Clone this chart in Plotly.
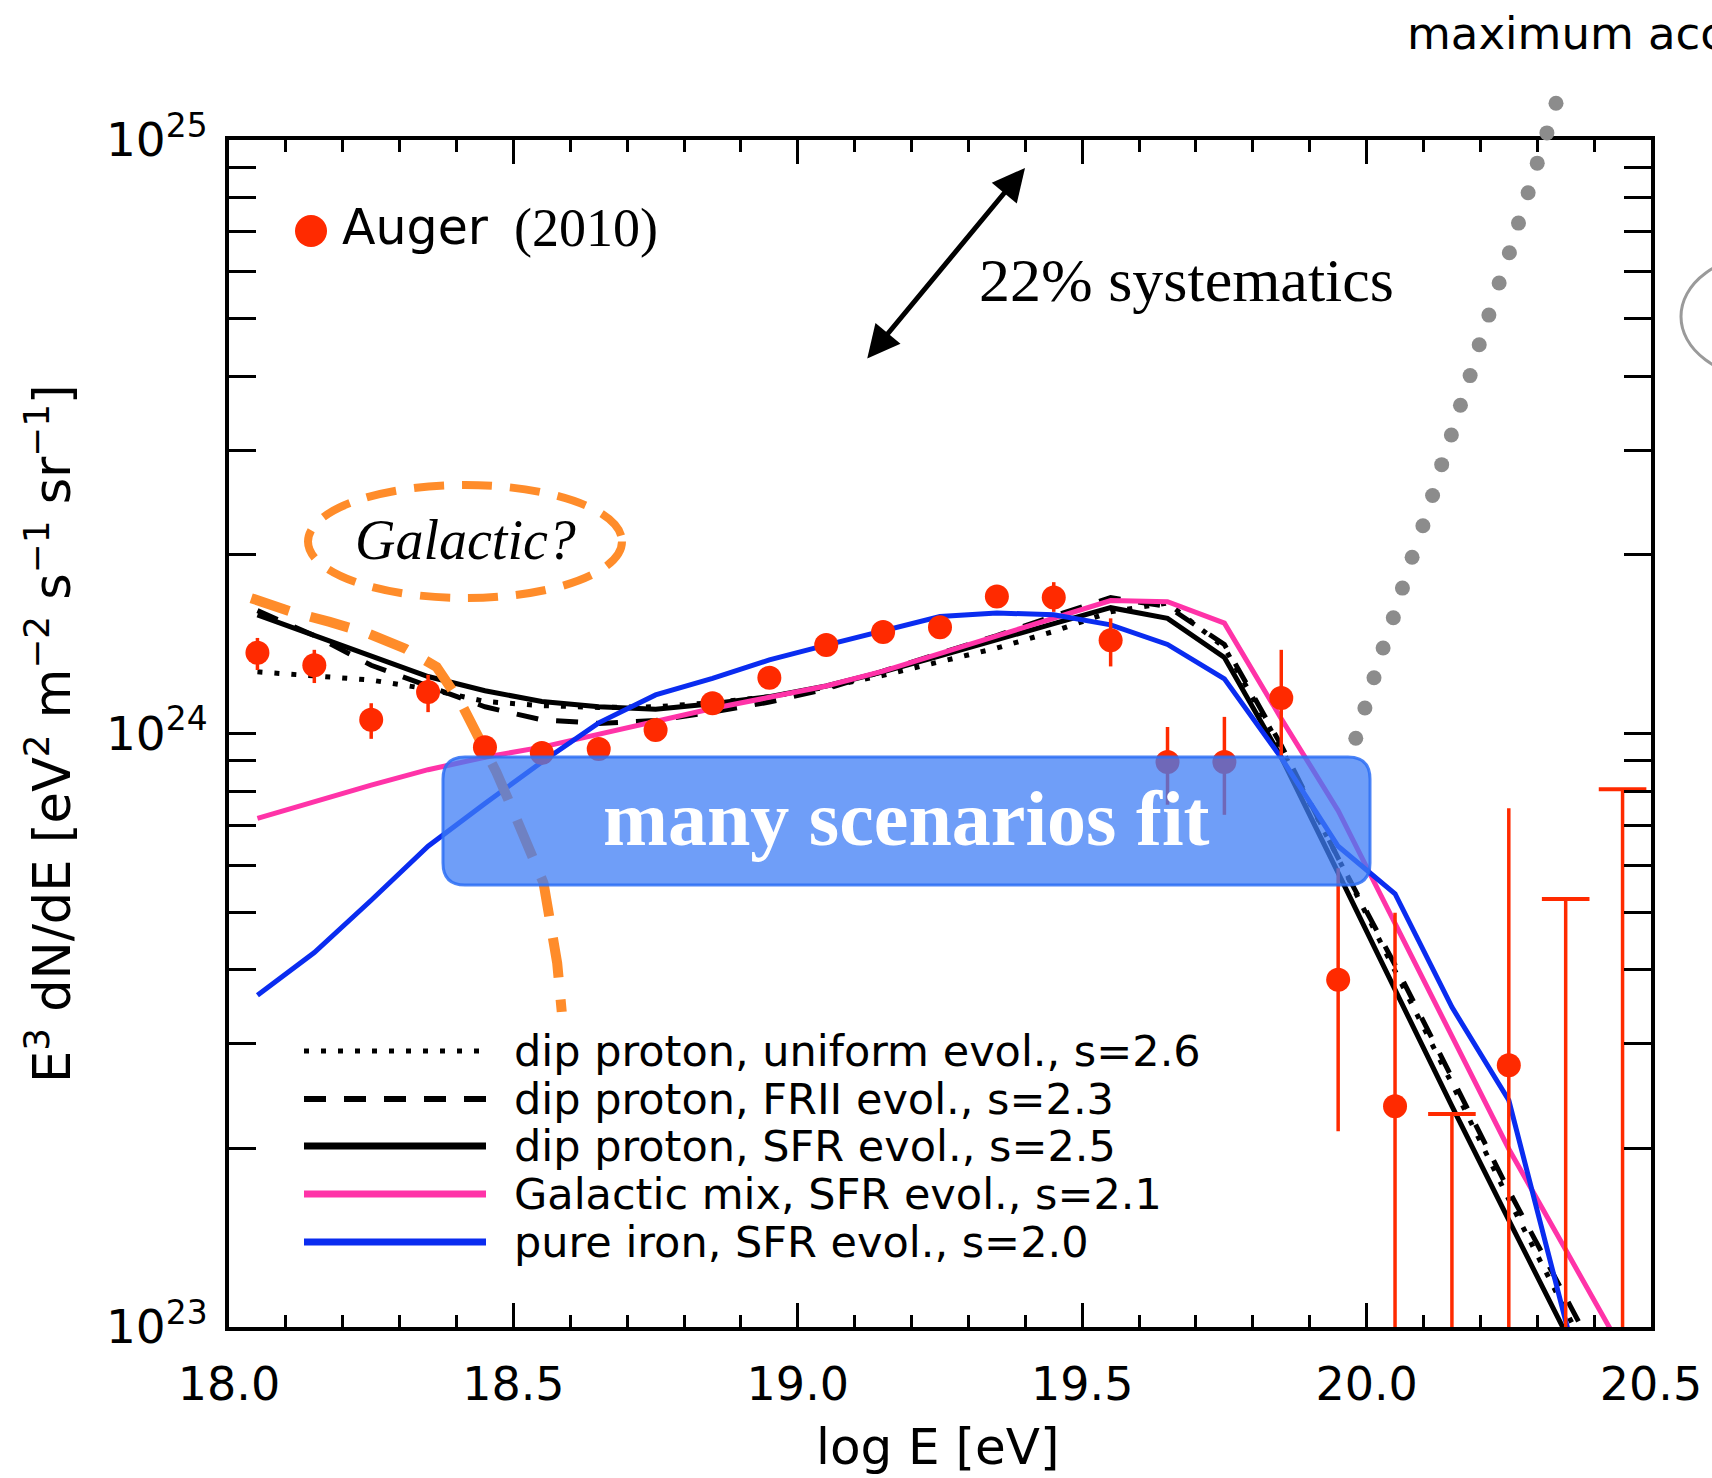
import plotly.graph_objects as go

# ---------------- data (log10 E [eV], log10 of E^3 dN/dE) ----------------
auger_logE = [18.05, 18.15, 18.25, 18.35, 18.45, 18.55, 18.65, 18.75, 18.85, 18.95,
              19.05, 19.15, 19.25, 19.35, 19.45, 19.55, 19.65, 19.75, 19.85, 19.95,
              20.05, 20.25]
auger_logJ = [24.136, 24.115, 24.023, 24.070, 23.977, 23.967, 23.974, 24.006, 24.051, 24.094,
              24.149, 24.171, 24.179, 24.231, 24.229, 24.157, 23.952, 23.952, 24.060, 23.585,
              23.372, 23.441]
auger_err_hi = [24.161, 24.141, 24.051, 24.099, 23.990, 23.978, 23.985, 24.016, 24.060, 24.103,
                24.158, 24.180, 24.190, 24.249, 24.255, 24.194, 24.011, 24.028, 24.141, 23.773,
                23.698, 23.874]
auger_err_lo = [24.107, 24.085, 23.991, 24.036, 23.964, 23.956, 23.963, 23.996, 24.042, 24.085,
                24.140, 24.162, 24.168, 24.213, 24.205, 24.113, 23.880, 23.863, 23.963, 23.330,
                22.0, 22.0]
ul_logE = [20.15, 20.35, 20.45]
ul_logJ = [23.359, 23.721, 23.906]

model_logE = [18.05, 18.15, 18.25, 18.35, 18.45, 18.55, 18.65, 18.75, 18.85, 18.95,
              19.05, 19.15, 19.25, 19.35, 19.45, 19.55, 19.65, 19.75, 19.85, 19.95,
              20.05, 20.15, 20.25, 20.35, 20.45]
dip_uniform = [24.104, 24.098, 24.090, 24.075, 24.054, 24.047, 24.044, 24.045, 24.052, 24.062,
               24.078, 24.098, 24.120, 24.144, 24.172, 24.205, 24.220, 24.145, 23.975, 23.790,
               23.600, 23.410, 23.215, 23.030, 22.840]
dip_frii = [24.207, 24.165, 24.115, 24.080, 24.045, 24.023, 24.017, 24.022, 24.036, 24.053,
            24.075, 24.105, 24.135, 24.165, 24.198, 24.229, 24.214, 24.150, 23.980, 23.790,
            23.610, 23.420, 23.230, 23.050, 22.870]
dip_sfr = [24.200, 24.166, 24.132, 24.096, 24.072, 24.054, 24.045, 24.041, 24.050, 24.062,
           24.080, 24.104, 24.131, 24.157, 24.185, 24.212, 24.194, 24.128, 23.960, 23.765,
           23.568, 23.372, 23.180, 22.990, 22.800]
galactic_mix = [23.857, 23.886, 23.913, 23.939, 23.960, 23.977, 23.999, 24.021, 24.042, 24.061,
                24.080, 24.105, 24.135, 24.163, 24.193, 24.224, 24.222, 24.186, 24.025, 23.870,
                23.680, 23.490, 23.300, 23.130, 22.960]
pure_iron = [23.559, 23.631, 23.719, 23.810, 23.882, 23.952, 24.018, 24.065, 24.093, 24.124,
             24.149, 24.172, 24.197, 24.203, 24.200, 24.183, 24.150, 24.092, 23.959, 23.810,
             23.730, 23.539, 23.382, 23.010, 22.640]

galactic_logE = [18.039, 18.110, 18.177, 18.243, 18.310, 18.365, 18.408, 18.447, 18.470,
                 18.498, 18.553, 18.577, 18.585]
galactic_logJ = [24.228, 24.205, 24.188, 24.169, 24.143, 24.112, 24.051, 23.983, 23.935,
                 23.873, 23.748, 23.613, 23.531]

emax_logE = [19.981, 19.997, 20.013, 20.029, 20.047, 20.063, 20.080, 20.099, 20.116, 20.132,
             20.149, 20.165, 20.182, 20.198, 20.215, 20.233, 20.251, 20.267, 20.284, 20.300,
             20.317, 20.333]
emax_logJ = [23.992, 24.043, 24.094, 24.144, 24.195, 24.245, 24.297, 24.350, 24.401, 24.453,
             24.503, 24.553, 24.603, 24.655, 24.705, 24.759, 24.810, 24.860, 24.911, 24.961,
             25.012, 25.062]

x_tickvals = [18.0, 18.5, 19.0, 19.5, 20.0, 20.5]
x_ticktext = ["18.0", "18.5", "19.0", "19.5", "20.0", "20.5"]
y_tickvals = [1e23, 1e24, 1e25]
y_ticktext = ["10<sup>23</sup>", "10<sup>24</sup>", "10<sup>25</sup>"]

legend_labels = ["dip proton, uniform evol., s=2.6",
                 "dip proton, FRII evol., s=2.3",
                 "dip proton, SFR evol., s=2.5",
                 "Galactic mix, SFR evol., s=2.1",
                 "pure iron, SFR evol., s=2.0"]

# ---------------- styles / layout geometry (pixels) ----------------
W, H = 1712, 1478
L, R, T, B = 229, 1651, 140, 1327      # frame of the main axes
PT = 40                                 # top of the paper area
D = (B - T) / (B - PT)                  # main y domain fraction
RED = "#ff2a00"
ORANGE = "#ff8c2a"
BLUE = "#0a2cf0"
PINK = "#ff33a8"
SANS = "DejaVu Sans"
SERIF = "Liberation Serif"
DOT = "5px,12px"
DASH = "22px,18px"


def px(X):
    return (X - L) / (R - L)


def py(Y):
    return (B - Y) / (B - PT)


def lin(vals):
    return [10.0 ** v for v in vals]


fig = go.Figure()

curves = [
    (dip_uniform, "black", DOT),
    (dip_frii, "black", DASH),
    (dip_sfr, "black", "solid"),
    (galactic_mix, PINK, "solid"),
    (pure_iron, BLUE, "solid"),
]
for vals, col, dash in curves:
    fig.add_trace(go.Scatter(x=model_logE, y=lin(vals), mode="lines",
                             line=dict(color=col, width=5, dash=dash),
                             showlegend=False, hoverinfo="skip"))

fig.add_trace(go.Scatter(x=galactic_logE, y=lin(galactic_logJ), mode="lines",
                         line=dict(color=ORANGE, width=10, dash="40px,22px"),
                         showlegend=False, hoverinfo="skip"))

# error bars
ex, ey = [], []
for e, lo, hi in zip(auger_logE, auger_err_lo, auger_err_hi):
    if hi - lo > 0.03:
        ex += [e, e, None]
        ey += [10.0 ** lo, 10.0 ** hi, None]
for e, v in zip(ul_logE, ul_logJ):
    ex += [e, e, None]
    ey += [1e22, 10.0 ** v, None]
fig.add_trace(go.Scatter(x=ex, y=ey, mode="lines", line=dict(color=RED, width=3.5),
                         showlegend=False, hoverinfo="skip"))
fig.add_trace(go.Scatter(x=ul_logE, y=lin(ul_logJ), mode="markers",
                         marker=dict(symbol="line-ew", size=34,
                                     line=dict(color=RED, width=4)),
                         showlegend=False, hoverinfo="skip"))
fig.add_trace(go.Scatter(x=auger_logE, y=lin(auger_logJ), mode="markers",
                         marker=dict(color=RED, size=24, line=dict(width=0)),
                         showlegend=False))

# maximum-acceleration dots: drawn on a taller, hidden y axis with the same scale
fig.add_trace(go.Scatter(x=emax_logE, y=lin(emax_logJ), mode="markers", yaxis="y2",
                         marker=dict(color="#8c8c8c", size=15, line=dict(width=0)),
                         cliponaxis=False, showlegend=False))
# empty trace so the top frame axis is drawn
fig.add_trace(go.Scatter(x=[None], y=[None], xaxis="x2", yaxis="y", mode="markers",
                         showlegend=False, hoverinfo="skip"))

# ---------------- shapes ----------------
shapes = []
leg_y = [1051, 1099, 1146, 1194, 1242]
leg_style = [("black", DOT, 5), ("black", DASH, 6), ("black", "solid", 7),
             (PINK, "solid", 7), (BLUE, "solid", 7)]
for yy, (col, dash, w) in zip(leg_y, leg_style):
    shapes.append(dict(type="line", xref="paper", yref="paper",
                       x0=px(304), x1=px(486), y0=py(yy), y1=py(yy),
                       line=dict(color=col, width=w, dash=dash)))
shapes.append(dict(type="circle", xref="paper", yref="paper",
                   x0=px(295), x1=px(327), y0=py(247), y1=py(215),
                   fillcolor=RED, line=dict(width=0)))
shapes.append(dict(type="circle", xref="paper", yref="paper",
                   x0=px(308), x1=px(622), y0=py(598), y1=py(485),
                   line=dict(color=ORANGE, width=8, dash="30px,18px")))
shapes.append(dict(type="circle", xref="paper", yref="paper",
                   x0=px(1681), x1=px(1850), y0=py(378), y1=py(255),
                   line=dict(color="#9a9a9a", width=3)))
x0, x1, y0, y1, r = 443, 1370, 757, 885, 22


def P(X, Y):
    return f"{px(X):.5f},{py(Y):.5f}"


path = (f"M {P(x0 + r, y0)} L {P(x1 - r, y0)} Q {P(x1, y0)} {P(x1, y0 + r)} "
        f"L {P(x1, y1 - r)} Q {P(x1, y1)} {P(x1 - r, y1)} "
        f"L {P(x0 + r, y1)} Q {P(x0, y1)} {P(x0, y1 - r)} "
        f"L {P(x0, y0 + r)} Q {P(x0, y0)} {P(x0 + r, y0)} Z")
shapes.append(dict(type="path", xref="paper", yref="paper", path=path,
                   fillcolor="rgba(63,126,246,0.75)", layer="above",
                   line=dict(color="rgba(45,110,245,0.85)", width=3)))

# ---------------- annotations ----------------
ann = []
for lab, yy in zip(legend_labels, leg_y):
    ann.append(dict(xref="paper", yref="paper", x=px(512), y=py(yy), text=lab,
                    xanchor="left", yanchor="middle", showarrow=False,
                    font=dict(family=SANS, size=43, color="black")))
ann.append(dict(xref="paper", yref="paper", x=px(340), y=py(228), text="Auger",
                xanchor="left", yanchor="middle", showarrow=False,
                font=dict(family=SANS, size=49, color="black")))
ann.append(dict(xref="paper", yref="paper", x=px(512), y=py(228), text="(2010)",
                xanchor="left", yanchor="middle", showarrow=False,
                font=dict(family=SERIF, size=54, color="black")))
ann.append(dict(xref="paper", yref="paper", x=px(977), y=py(280), text="22% systematics",
                xanchor="left", yanchor="middle", showarrow=False,
                font=dict(family=SERIF, size=62, color="black")))
ann.append(dict(xref="paper", yref="paper", x=px(465), y=py(540), text="<i>Galactic?</i>",
                xanchor="center", yanchor="middle", showarrow=False,
                font=dict(family=SERIF, size=56, color="black")))
ann.append(dict(xref="paper", yref="paper", x=px(906), y=py(818), text="<b>many scenarios fit</b>",
                xanchor="center", yanchor="middle", showarrow=False,
                font=dict(family=SERIF, size=78, color="white")))
ann.append(dict(xref="paper", yref="paper", x=px(1405), y=py(34), text="maximum acceleration",
                xanchor="left", yanchor="middle", showarrow=False,
                font=dict(family=SANS, size=45, color="black")))
ann.append(dict(xref="paper", yref="paper", x=px(1025), y=py(168), ax=-159, ay=192,
                text="", showarrow=True, arrowhead=2, arrowside="end+start",
                arrowsize=1.3, arrowwidth=5, arrowcolor="black"))
ann.append(dict(xref="paper", yref="paper", x=px(938), y=py(1447), text="log E [eV]",
                xanchor="center", yanchor="middle", showarrow=False,
                font=dict(family=SANS, size=50, color="black")))
ann.append(dict(xref="paper", yref="paper", x=px(49), y=py(734), textangle=-90,
                text="E<sup>3</sup> dN/dE [eV<sup>2</sup> m<sup>−2</sup> s<sup>−1</sup> sr<sup>−1</sup>]",
                xanchor="center", yanchor="middle", showarrow=False,
                font=dict(family=SANS, size=51, color="black")))

minor_y = [float(m) * 10.0 ** d for d in (23, 24) for m in range(2, 10)]

xaxis_common = dict(range=[18.0, 20.5], tickvals=x_tickvals,
                    ticks="inside", ticklen=24, tickwidth=3, tickcolor="black",
                    showline=True, linewidth=4, linecolor="black",
                    showgrid=False, zeroline=False,
                    minor=dict(dtick=0.1, tick0=18.0, ticks="inside", ticklen=12,
                               tickwidth=3, tickcolor="black", showgrid=False))

fig.update_layout(
    width=W, height=H,
    margin=dict(l=L, r=W - R, t=PT, b=H - B, pad=0, autoexpand=False),
    paper_bgcolor="white", plot_bgcolor="rgba(0,0,0,0)",
    showlegend=False,
    shapes=shapes, annotations=ann,
    xaxis=dict(**xaxis_common, ticktext=x_ticktext, anchor="y", mirror=False,
               ticklabelstandoff=14,
               tickfont=dict(family=SANS, size=46, color="black")),
    xaxis2=dict(**xaxis_common, overlaying="x", anchor="y", side="top",
                showticklabels=False),
    yaxis=dict(type="log", range=[23, 25], domain=[0, D],
               tickvals=y_tickvals, ticktext=y_ticktext,
               ticks="inside", ticklen=27, tickwidth=3, tickcolor="black",
               showline=True, linewidth=4, linecolor="black", mirror="allticks",
               showgrid=False, zeroline=False, ticklabelstandoff=8,
               tickfont=dict(family=SANS, size=47, color="black"),
               minor=dict(tickvals=minor_y, ticks="inside", ticklen=12,
                          tickwidth=3, tickcolor="black", showgrid=False)),
    yaxis2=dict(type="log", range=[23, 23 + 2 / D], domain=[0, 1], anchor="x",
                visible=False, showgrid=False, zeroline=False),
)

fig.write_html("out.html")
